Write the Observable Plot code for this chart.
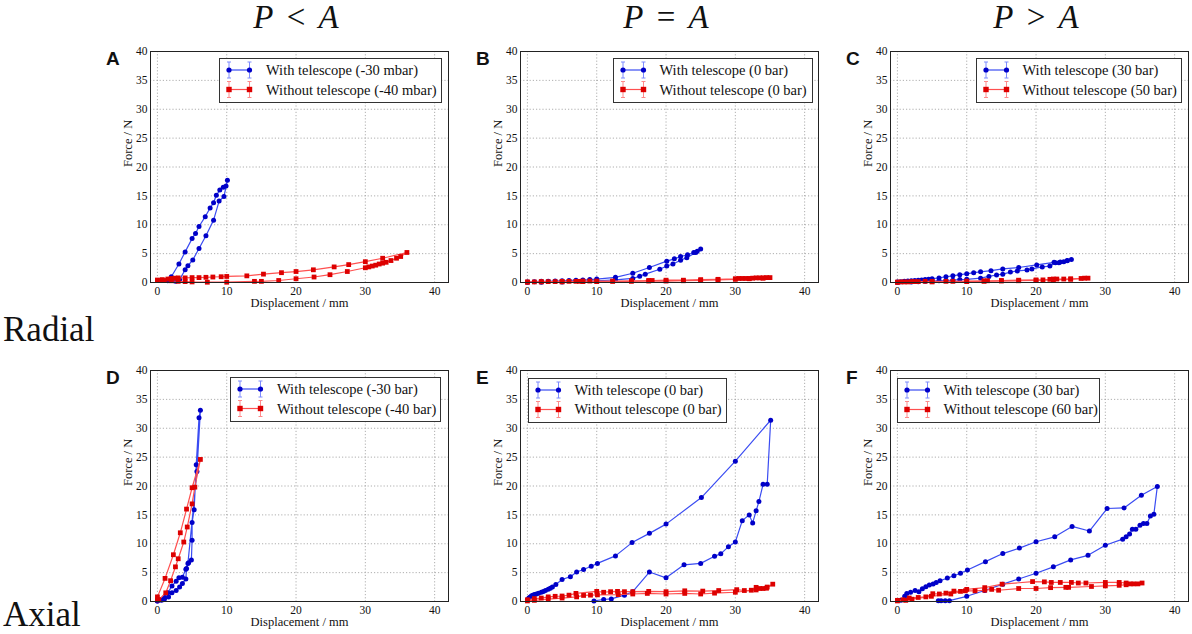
<!DOCTYPE html>
<html><head><meta charset="utf-8">
<script src="https://cdn.jsdelivr.net/npm/d3@7"></script>
<script src="https://cdn.jsdelivr.net/npm/@observablehq/plot@0.6"></script>
<style>
body{margin:0;background:#fff;}
#root{position:relative;width:1192px;height:634px;overflow:hidden;font-family:"Liberation Serif","Times New Roman",serif;color:#111;}
.abs{position:absolute;white-space:nowrap;line-height:1;}
.letter{font-family:"Liberation Sans",Arial,sans-serif;font-weight:bold;font-size:19px;}
.coltitle{font-size:33px;transform:translateX(-50%);}
.coltitle .rel{padding:0 0.4em;}
.rowlabel{font-size:35px;}
.legend{position:absolute;box-sizing:border-box;height:45px;border:1px solid #333;background:#fff;}
.legend .lt{position:absolute;font-size:14.5px;line-height:1;white-space:nowrap;}
</style></head>
<body><div id="root"></div>
<script>
// ---------- data ----------
const xTicks = [0, 10, 20, 30, 40];
const yTicks = [0, 5, 10, 15, 20, 25, 30, 35, 40];
const xLabel = "Displacement / mm";
const yLabel = "Force / N";
const panelLetters = ["A", "B", "C", "D", "E", "F"];
const columnTitles = [["P", "<", "A"], ["P", "=", "A"], ["P", ">", "A"]];
const rowLabels = ["Radial", "Axial"];
const legendWith = ["With telescope (-30 mbar)", "With telescope (0 bar)", "With telescope (30 bar)",
                    "With telescope (-30 bar)", "With telescope (0 bar)", "With telescope (30 bar)"];
const legendWithout = ["Without telescope (-40 mbar)", "Without telescope (0 bar)", "Without telescope (50 bar)",
                       "Without telescope (-40 bar)", "Without telescope (0 bar)", "Without telescope (60 bar)"];

const withA = [[1.5,0.3],[2,1.0],[3.1,3.2],[4,5.3],[5,7.6],[5.5,8.5],[6,9.7],[6.9,11.4],[7.6,12.9],[8.1,13.8],[8.5,15.1],[9,16],[9.5,16.5],[9.9,16.7],[10.1,17.7],[9.6,14.9],[8.9,14.1],[8.1,10.8],[7,8.1],[6,5.9],[5.1,3.9],[4.4,2.9],[4,2.2],[3.2,0.5],[2.6,0.2]];
const withoutA = [[0,0.4],[0.7,0.5],[1.5,0.6],[2,0.7],[2.5,0.75],[3,0.8],[4,0.8],[5,0.85],[6,0.85],[7,0.9],[8,0.95],[9.2,1.0],[10,1.05],[12.9,1.15],[15.3,1.45],[17.9,1.7],[20,1.9],[22.5,2.2],[25.5,2.7],[27.6,3.1],[30,3.6],[32.5,4.2],[36,5.2],[35.1,4.5],[34.5,4.2],[33.7,3.8],[33,3.5],[32.5,3.35],[32,3.2],[31.5,3.0],[31,2.85],[30.5,2.7],[30,2.55],[27.4,1.9],[24.9,1.35],[22.6,0.95],[20,0.65],[17.5,0.35],[15,0.2],[14,0.2],[10,0.05],[7.2,0.05],[5,0.1],[4,0.15],[3,0.2],[2,0.3],[1,0.35],[0,0.4]];

const withB = [[0,0.1],[1,0.15],[2,0.2],[3,0.2],[4,0.25],[5,0.3],[6,0.35],[7,0.4],[8,0.45],[9,0.5],[10,0.6],[12.7,0.9],[15.2,1.6],[17.6,2.6],[20.1,3.7],[21.2,4.1],[22.1,4.5],[23.1,4.8],[24,5.2],[24.5,5.4],[25,5.8],[24.3,5.2],[23,4.3],[22.1,3.85],[21,3.2],[20.1,2.85],[19.1,2.3],[17,1.45],[16.2,1.1],[15.2,0.7],[12.7,0.45],[10,0.3],[8,0.2],[5,0.1],[2,0.05],[0,0.05]];
const withoutB = [[0,0.1],[1,0.1],[2,0.15],[3,0.15],[4,0.15],[5,0.2],[6,0.2],[7,0.2],[7.5,0.2],[8,0.25],[9,0.25],[10,0.25],[12.3,0.25],[15,0.3],[17.5,0.35],[18,0.35],[20,0.4],[22.5,0.4],[25,0.5],[27.5,0.55],[30,0.65],[30.5,0.7],[31,0.7],[31.5,0.7],[32,0.7],[32.5,0.75],[33,0.8],[33.5,0.8],[34,0.8],[34.5,0.85],[35,0.85],[34,0.75],[32,0.65],[30,0.55],[27.5,0.45],[25,0.35],[22.5,0.3],[20,0.25],[17.5,0.25],[15,0.2],[12.3,0.2],[10,0.15],[8,0.15],[5,0.1],[2,0.1],[0,0.05]];

const withC = [[0,0.1],[0.5,0.15],[1,0.2],[1.5,0.25],[2,0.3],[2.5,0.35],[3,0.4],[3.5,0.45],[4,0.5],[4.5,0.55],[5,0.65],[6,0.8],[7,1.0],[8,1.15],[9,1.35],[10,1.5],[11,1.7],[12,1.85],[13.5,2.05],[15.2,2.35],[17.5,2.6],[20.1,3.05],[22.6,3.5],[23.3,3.4],[24,3.6],[24.5,3.8],[25.1,4.0],[24.5,3.75],[23.5,3.55],[22.8,3.4],[22,2.85],[20.9,2.7],[19.4,2.35],[18.7,2.15],[17.3,2.0],[16.3,1.8],[15.2,1.45],[14.3,1.3],[13.2,1.05],[12,0.75],[10,0.55],[9,0.5],[8,0.4],[7,0.35],[6,0.3],[5,0.25],[4,0.2],[3,0.15],[2,0.1],[0,0.05]];
const withoutC = [[0,0.05],[0.5,0.1],[1,0.1],[1.5,0.1],[2,0.15],[2.5,0.15],[3,0.15],[4,0.2],[5,0.2],[7,0.2],[8,0.2],[10,0.25],[12.5,0.3],[13,0.3],[15,0.35],[17.5,0.4],[20,0.45],[21,0.45],[22,0.55],[22.5,0.6],[23,0.6],[24,0.6],[25,0.65],[26.5,0.7],[27,0.75],[27.5,0.75],[25,0.55],[22.5,0.45],[20,0.35],[17.5,0.3],[15,0.25],[12.5,0.2],[10,0.15],[5,0.1],[0,0.05]];

const withD = [[0,0.1],[0.6,0.2],[1.0,0.4],[1.6,0.8],[2.1,1.5],[2.7,1.9],[3.2,2.5],[3.6,3.1],[4.1,3.9],[4.2,5.7],[4.5,6.7],[4.9,7.2],[5.0,10.6],[5.0,13.7],[5.3,15.9],[5.6,23.7],[6.0,31.8],[6.2,33.1],[5.7,22.5],[4.4,6.6],[4.1,5.6],[3.6,4.2],[3.1,4.1],[2.7,3.5],[2.1,2.7],[1.5,1.5],[1.0,0.7],[0.5,0.3],[0,0.1]];
const withoutD = [[0,0.3],[0,0.8],[1.1,4.0],[2.3,8.1],[3.3,11.9],[4.2,16.0],[5.0,19.7],[6.2,24.6],[5.4,19.8],[5.0,16.9],[4.3,12.9],[3.8,10.3],[3.0,7.4],[2.6,6.0],[1.9,3.6],[1.2,1.5],[0.2,0.3]];

const withE = [[0,0.3],[0.2,0.6],[0.4,0.8],[0.6,1.0],[0.8,1.1],[1,1.2],[1.3,1.3],[1.6,1.45],[2,1.6],[2.3,1.75],[2.6,1.9],[3,2.1],[3.3,2.3],[3.6,2.5],[4.1,2.95],[5,3.8],[6.2,4.3],[7.1,5.1],[8.1,5.55],[9.2,6.1],[10.1,6.6],[12.7,7.9],[15.1,10.2],[17.6,11.8],[20,13.4],[25.1,18.0],[30,24.3],[35.1,31.4],[34.6,20.3],[34,20.3],[33.4,17.3],[33,15.7],[32.5,13.6],[32,15.0],[31,14.0],[30,10.3],[29,9.5],[27.9,8.25],[27,7.85],[25,6.6],[22.6,6.35],[20,4.1],[17.6,5.1],[15.2,1.7],[14,1.1],[12.1,0.45],[11,0.35],[9.6,0.1]];
const withoutE = [[0,0.3],[1,0.5],[2,0.6],[3,0.8],[4,0.9],[5,0.95],[6,1.1],[7,1.4],[10,1.75],[11,1.6],[12,1.7],[13,1.75],[14,1.7],[15.2,1.7],[17.5,1.75],[20,1.7],[22.7,1.85],[25.3,1.8],[27.6,1.9],[30.2,2.05],[31.3,1.9],[32.3,1.95],[33,2.45],[33.5,2.25],[34,2.25],[34.6,2.5],[35.4,3.0],[34.5,2.3],[33,2.0],[30,1.6],[27,1.45],[25,1.3],[22.7,1.4],[20,1.3],[17.3,1.4],[15.2,1.3],[13.1,1.2],[10.1,1.15],[9.1,1.1],[8.1,1.05],[7.1,0.8],[5,0.6],[3,0.4],[1,0.2],[0,0.1]];

const withF = [[0.5,0.2],[1.05,0.9],[1.35,1.4],[1.9,1.6],[2.55,1.9],[3.1,1.7],[3.6,2.2],[4.1,2.55],[4.6,2.85],[5.15,3.05],[5.6,3.3],[6.15,3.6],[7.2,4.05],[8.15,4.45],[9.1,4.9],[10.1,5.45],[12.7,6.9],[15.2,8.3],[17.6,9.25],[20,10.35],[22.7,11.2],[25.2,13.0],[27.7,12.2],[30.25,16.1],[32.7,16.2],[35.2,18.4],[37.5,19.9],[37,15.1],[36.5,14.8],[36,13.5],[35.5,13.5],[35,13.2],[34.4,12.5],[33.9,12.5],[33.5,11.7],[33,11.2],[32.5,10.8],[30,9.75],[27.5,8.0],[25,7.2],[22.5,6.0],[20,4.9],[17.5,3.9],[15.2,3.0],[12.6,1.9],[10,0.9],[7.5,0.15],[6.9,0.15],[6.3,0.15],[5.9,0.15]];
const withoutF = [[0,0.2],[0.8,0.3],[1.7,0.6],[3,0.7],[4.1,0.8],[5.1,1.35],[6.05,1.3],[7,1.45],[8.15,1.8],[9.1,1.75],[10,2.1],[12.6,2.4],[15.1,3.0],[19.5,3.45],[21.2,3.4],[22.2,3.3],[23.5,3.3],[25.1,3.3],[26.1,3.2],[27.2,3.2],[30,3.3],[32,3.3],[33,3.2],[34.1,3.05],[35.3,3.2],[34.7,3.05],[33.6,3.05],[33,2.9],[32,2.8],[30,2.7],[28,2.6],[24.7,2.45],[24.3,2.45],[22.1,2.4],[20,2.25],[17.5,2.25],[14.6,1.95],[13.6,2.1],[12.6,1.95],[11.2,1.85],[9.8,1.85],[7.7,1.3],[4.9,0.9],[2.1,0.4],[1.2,0.2],[0,0.1]];

const withSeries = [withA, withB, withC, withD, withE, withF];
const withoutSeries = [withoutA, withoutB, withoutC, withoutD, withoutE, withoutF];

// ---------- layout / style ----------
const BLUE_LINE = "#3a4cf2", BLUE_DOT = "#0000c8", BLUE_ERR = "#7f8cff";
const RED_LINE = "#ff5050", RED_DOT = "#dd0000", RED_ERR = "#ff8a8a";
const COL_DX = 370, ROW_DY = 319;
const legendLayout = [
  {l: 219, t: 58, w: 223}, {l: 612.5, t: 58, w: 200}, {l: 975.5, t: 58, w: 206},
  {l: 230, t: 377, w: 211}, {l: 527.5, t: 377.5, w: 199}, {l: 896.5, t: 377.5, w: 203}
];

const root = document.getElementById("root");

function toRows(arr) { return arr.map(([x, y]) => ({x, y})); }

function makePanel(i) {
  const w = toRows(withSeries[i]);
  const wo = toRows(withoutSeries[i]);
  return Plot.plot({
    width: 362, height: 271,
    marginLeft: 60, marginRight: 4, marginTop: 8, marginBottom: 32,
    style: {fontFamily: '"Liberation Serif","Times New Roman",serif', fontSize: "11.5px", color: "#111", background: "transparent", overflow: "visible"},
    x: {domain: [-1, 42], ticks: xTicks, tickSize: 0, tickPadding: 4, label: null, tickFormat: d => String(d)},
    y: {domain: [0, 40], ticks: yTicks, tickSize: 0, tickPadding: 3, label: null, tickFormat: d => String(d)},
    marks: [
      Plot.gridX(xTicks, {stroke: "#9a9a9a", strokeOpacity: 1, strokeWidth: 0.8, strokeDasharray: "1.2,2"}),
      Plot.gridY(yTicks, {stroke: "#9a9a9a", strokeOpacity: 1, strokeWidth: 0.8, strokeDasharray: "1.2,2"}),
      Plot.line(w, {x: "x", y: "y", stroke: BLUE_LINE, strokeWidth: 1.2}),
      Plot.dot(w, {x: "x", y: "y", fill: BLUE_DOT, r: 2.5, stroke: "none"}),
      Plot.line(wo, {x: "x", y: "y", stroke: RED_LINE, strokeWidth: 1.2}),
      Plot.dot(wo, {x: "x", y: "y", symbol: "square", fill: RED_DOT, r: 2.7, stroke: "none"}),
      Plot.frame({stroke: "#222", strokeWidth: 1}),
      Plot.text([yLabel], {frameAnchor: "left", dx: -23, rotate: -90, fontSize: 12.5, fill: "#111"}),
      Plot.text([xLabel], {frameAnchor: "bottom", dy: 24.5, fontSize: 12.5, fill: "#111"})
    ]
  });
}

function legendSwatch(y, isBlue) {
  const line = isBlue ? BLUE_LINE : RED_LINE, err = isBlue ? BLUE_ERR : RED_ERR, dot = isBlue ? BLUE_DOT : RED_DOT;
  const xs = [10, 30.5];
  let s = `<line x1="${xs[0]}" x2="${xs[1]}" y1="${y}" y2="${y}" stroke="${line}" stroke-width="1.2"/>`;
  xs.forEach(x => {
    s += `<line x1="${x}" x2="${x}" y1="${y-8}" y2="${y+8}" stroke="${err}" stroke-width="1"/>`;
    s += `<line x1="${x-2}" x2="${x+2}" y1="${y-8}" y2="${y-8}" stroke="${err}" stroke-width="1"/>`;
    s += `<line x1="${x-2}" x2="${x+2}" y1="${y+8}" y2="${y+8}" stroke="${err}" stroke-width="1"/>`;
    s += isBlue ? `<circle cx="${x}" cy="${y}" r="2.6" fill="${dot}"/>`
                : `<rect x="${x-2.7}" y="${y-2.7}" width="5.4" height="5.4" fill="${dot}"/>`;
  });
  return s;
}

for (let i = 0; i < 6; i++) {
  const col = i % 3, row = Math.floor(i / 3);
  const ox = col * COL_DX, oy = row * ROW_DY;
  const svg = makePanel(i);
  svg.style.position = "absolute";
  svg.style.left = (90 + ox) + "px";
  svg.style.top = (43 + oy) + "px";
  svg.style.maxWidth = "none";
  root.appendChild(svg);

  const letter = document.createElement("div");
  letter.className = "abs letter";
  letter.textContent = panelLetters[i];
  letter.style.left = (106 + ox) + "px";
  letter.style.top = (49 + oy) + "px";
  root.appendChild(letter);

  const L = legendLayout[i];
  const leg = document.createElement("div");
  leg.className = "legend";
  leg.style.left = L.l + "px"; leg.style.top = L.t + "px"; leg.style.width = L.w + "px";
  leg.innerHTML =
    `<svg width="44" height="43" style="position:absolute;left:-1px;top:-1px;overflow:visible">${legendSwatch(12, true)}${legendSwatch(31.5, false)}</svg>` +
    `<div class="lt" style="left:46px;top:4px"></div><div class="lt" style="left:46px;top:23.5px"></div>`;
  const lts = leg.querySelectorAll(".lt");
  lts[0].textContent = legendWith[i];
  lts[1].textContent = legendWithout[i];
  root.appendChild(leg);
}

columnTitles.forEach((t, c) => {
  const d = document.createElement("div");
  d.className = "abs coltitle";
  d.style.left = (296 + c * COL_DX) + "px";
  d.style.top = "1px";
  const a = document.createElement("i"); a.textContent = t[0];
  const r = document.createElement("span"); r.className = "rel"; r.textContent = t[1];
  const b = document.createElement("i"); b.textContent = t[2];
  d.append(a, r, b);
  root.appendChild(d);
});

rowLabels.forEach((t, r) => {
  const d = document.createElement("div");
  d.className = "abs rowlabel";
  d.textContent = t;
  d.style.left = "3px";
  d.style.top = (r === 0 ? 312 : 597) + "px";
  root.appendChild(d);
});
</script>
</body></html>
